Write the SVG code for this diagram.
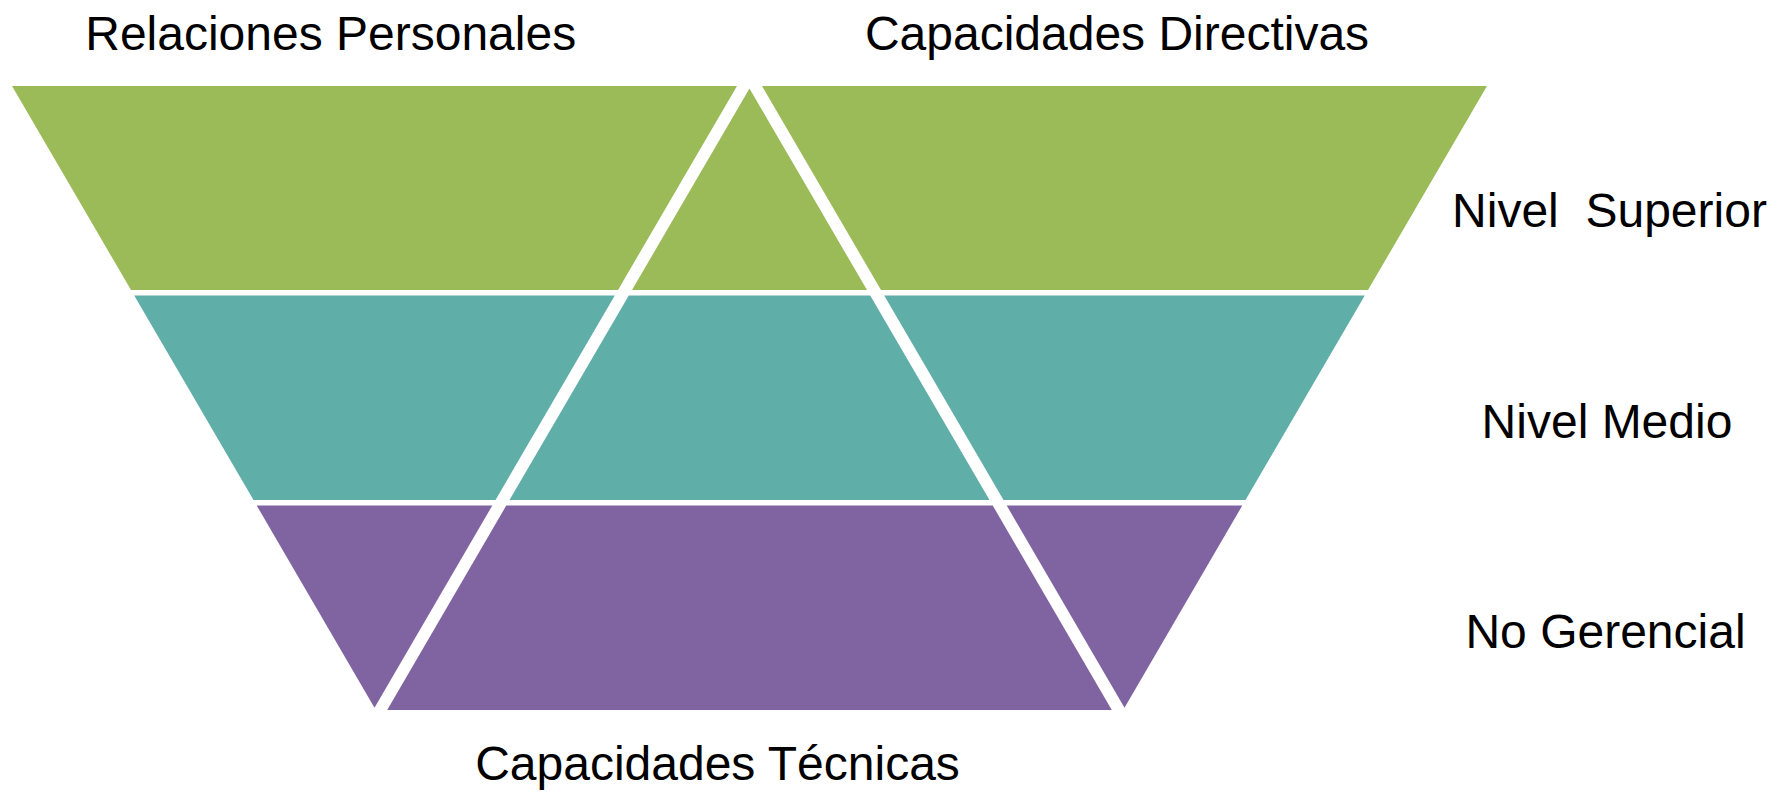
<svg xmlns="http://www.w3.org/2000/svg" width="1788" height="794" viewBox="0 0 1788 794">
<style>
.g{fill:#9BBB59}
.t{fill:#5FAEA7}
.p{fill:#8064A2}
text{font-family:"Liberation Sans",Arial,sans-serif;font-size:48px;fill:#000}
</style>
<rect width="1788" height="794" fill="#fff"/>
<g id="band-superior">
<polygon class="g" points="12,86 737,86 618,290 131,290"/>
<polygon class="g" points="749.5,88.6 867,290 632,290"/>
<polygon class="g" points="762,86 1487,86 1368,290 881,290"/>
</g>
<g id="band-medio">
<polygon class="t" points="134.2,295.5 614.8,295.5 495.5,500 253.5,500"/>
<polygon class="t" points="628.8,295.5 870.2,295.5 989.5,500 509.5,500"/>
<polygon class="t" points="884.2,295.5 1364.8,295.5 1245.5,500 1003.5,500"/>
</g>
<g id="band-nogerencial">
<polygon class="p" points="256.7,505.5 492.3,505.5 374.5,707.8"/>
<polygon class="p" points="506.3,505.5 992.7,505.5 1111.8,710 387.2,710"/>
<polygon class="p" points="1006.7,505.5 1242.3,505.5 1124.5,707.8"/>
</g>
<g id="connectors"></g>
<g id="label-relaciones"><text x="330.7" y="49.5" text-anchor="middle">Relaciones Personales</text></g>
<g id="label-directivas"><text x="1117" y="49.5" text-anchor="middle">Capacidades Directivas</text></g>
<g id="label-tecnicas"><text x="717.5" y="780" text-anchor="middle">Capacidades Técnicas</text></g>
<g id="label-superior"><text x="1609.5" y="227.3" text-anchor="middle" xml:space="preserve">Nivel  Superior</text></g>
<g id="label-medio"><text x="1607" y="438.3" text-anchor="middle">Nivel Medio</text></g>
<g id="label-nogerencial"><text x="1605.5" y="648.3" text-anchor="middle">No Gerencial</text></g>
</svg>
